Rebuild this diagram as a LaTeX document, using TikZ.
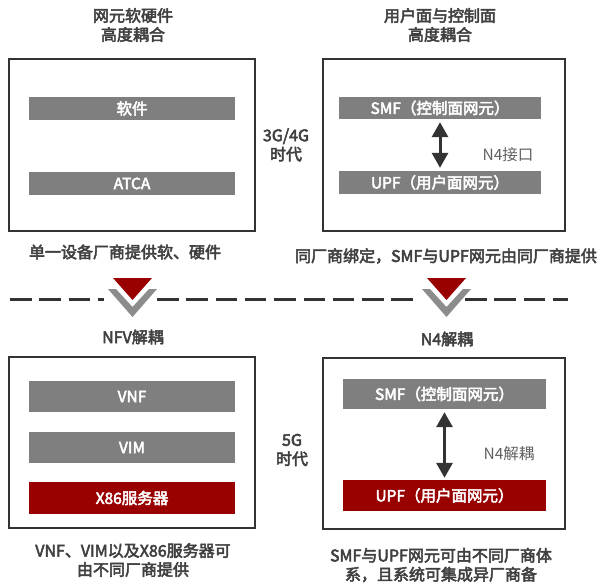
\documentclass[tikz,border=0pt]{standalone}
\usepackage{fontspec}
\setmainfont{Noto Sans CJK SC}[BoldFont={Noto Sans CJK SC},BoldFeatures={FakeBold=3.2}]
\usetikzlibrary{arrows.meta}
\definecolor{barGray}{HTML}{7F7F7F}
\definecolor{chevGray}{HTML}{8C8C8C}
\definecolor{darkRed}{HTML}{990000}
\definecolor{txtGray}{HTML}{404040}
\definecolor{lblGray}{HTML}{606060}
\definecolor{lineGray}{HTML}{333333}

\begin{document}
\begin{tikzpicture}[x=1pt,y=-1pt,
  frame/.style={draw=lineGray,line width=2.5pt},
  bar/.style={fill=barGray,text=white,inner sep=0pt,minimum width=206pt,font=\fontsize{15.5}{18}\selectfont\bfseries},
  redbar/.style={bar,fill=darkRed},
  title/.style={text=txtGray,align=center,font=\fontsize{16}{19}\selectfont\bfseries},
  note/.style={text=lblGray,font=\fontsize{15.5}{18}\selectfont},
  divider/.style={draw=lineGray,line width=3pt,dash pattern=on 21.5pt off 7.8pt},
  link/.style={draw=lineGray,line width=3pt,{Triangle[width=16pt,length=15pt]}-{Triangle[width=16pt,length=15pt]}}]
\useasboundingbox (0,0) rectangle (600,584);

% 3G/4G era
\draw[frame] (9,59) rectangle (255,231);
\draw[frame] (323,59) rectangle (565,231);
\node[title] (titleA) at (133,25) {网元软硬件\\高度耦合};
\node[title] (titleB) at (440,25) {用户面与控制面\\高度耦合};
\node[bar,minimum height=23pt] (swA) at (132,108.5) {软件};
\node[bar,minimum height=23pt] (atcaA) at (132,183.5) {ATCA};
\node[bar,minimum width=202pt,minimum height=22pt] (smfA) at (440,108) {SMF（控制面网元）};
\node[bar,minimum width=202pt,minimum height=23pt] (upfA) at (440,182.5) {UPF（用户面网元）};
\draw[link,shorten <=3pt,shorten >=3pt] (smfA) -- (upfA);
\node[note] (ifA) at (508,155) {N4接口};
\node[title] (eraA) at (286,145) {3G/4G\\时代};
\node[title] (capA) at (125,252) {单一设备厂商提供软、硬件};
\node[title] (capB) at (446,256) {同厂商绑定，SMF与UPF网元由同厂商提供};

% divider
\draw[divider] (10,299) -- (104,299);
\draw[divider] (157,299) -- (414,299);
\draw[divider] (465,299) -- (568,299);
\fill[darkRed] (113,278) -- (152,278) -- (132.5,300) -- cycle;
\fill[chevGray] (108,289) -- (132.5,317) -- (157,289) -- (149,289) -- (132.5,307) -- (116,289) -- cycle;
\fill[darkRed] (427,278) -- (466,278) -- (446.5,300) -- cycle;
\fill[chevGray] (422,289) -- (446.5,317) -- (471,289) -- (463,289) -- (446.5,307) -- (430,289) -- cycle;

% 5G era
\node[title] (titleC) at (133,337) {NFV解耦};
\node[title] (titleD) at (447,339) {N4解耦};
\draw[frame] (9,357) rectangle (255,528);
\draw[frame] (323,358) rectangle (565,529);
\node[bar,minimum height=31pt] (vnfC) at (132,396.5) {VNF};
\node[bar,minimum height=31pt] (vimC) at (132,447.5) {VIM};
\node[redbar,minimum height=32pt] (x86C) at (132,498) {X86服务器};
\node[bar,minimum width=203pt,minimum height=30pt] (smfD) at (444.5,394) {SMF（控制面网元）};
\node[redbar,minimum width=203pt,minimum height=31pt] (upfD) at (444.5,495.5) {UPF（用户面网元）};
\draw[link,shorten <=3pt,shorten >=2pt] (smfD) -- (upfD);
\node[note] (ifD) at (509,454) {N4解耦};
\node[title] (eraB) at (292,450) {5G\\时代};
\node[title] (capC) at (133,560) {VNF、VIM以及X86服务器可\\由不同厂商提供};
\node[title] (capD) at (441,565) {SMF与UPF网元可由不同厂商体\\系，且系统可集成异厂商备};
\end{tikzpicture}
\end{document}
